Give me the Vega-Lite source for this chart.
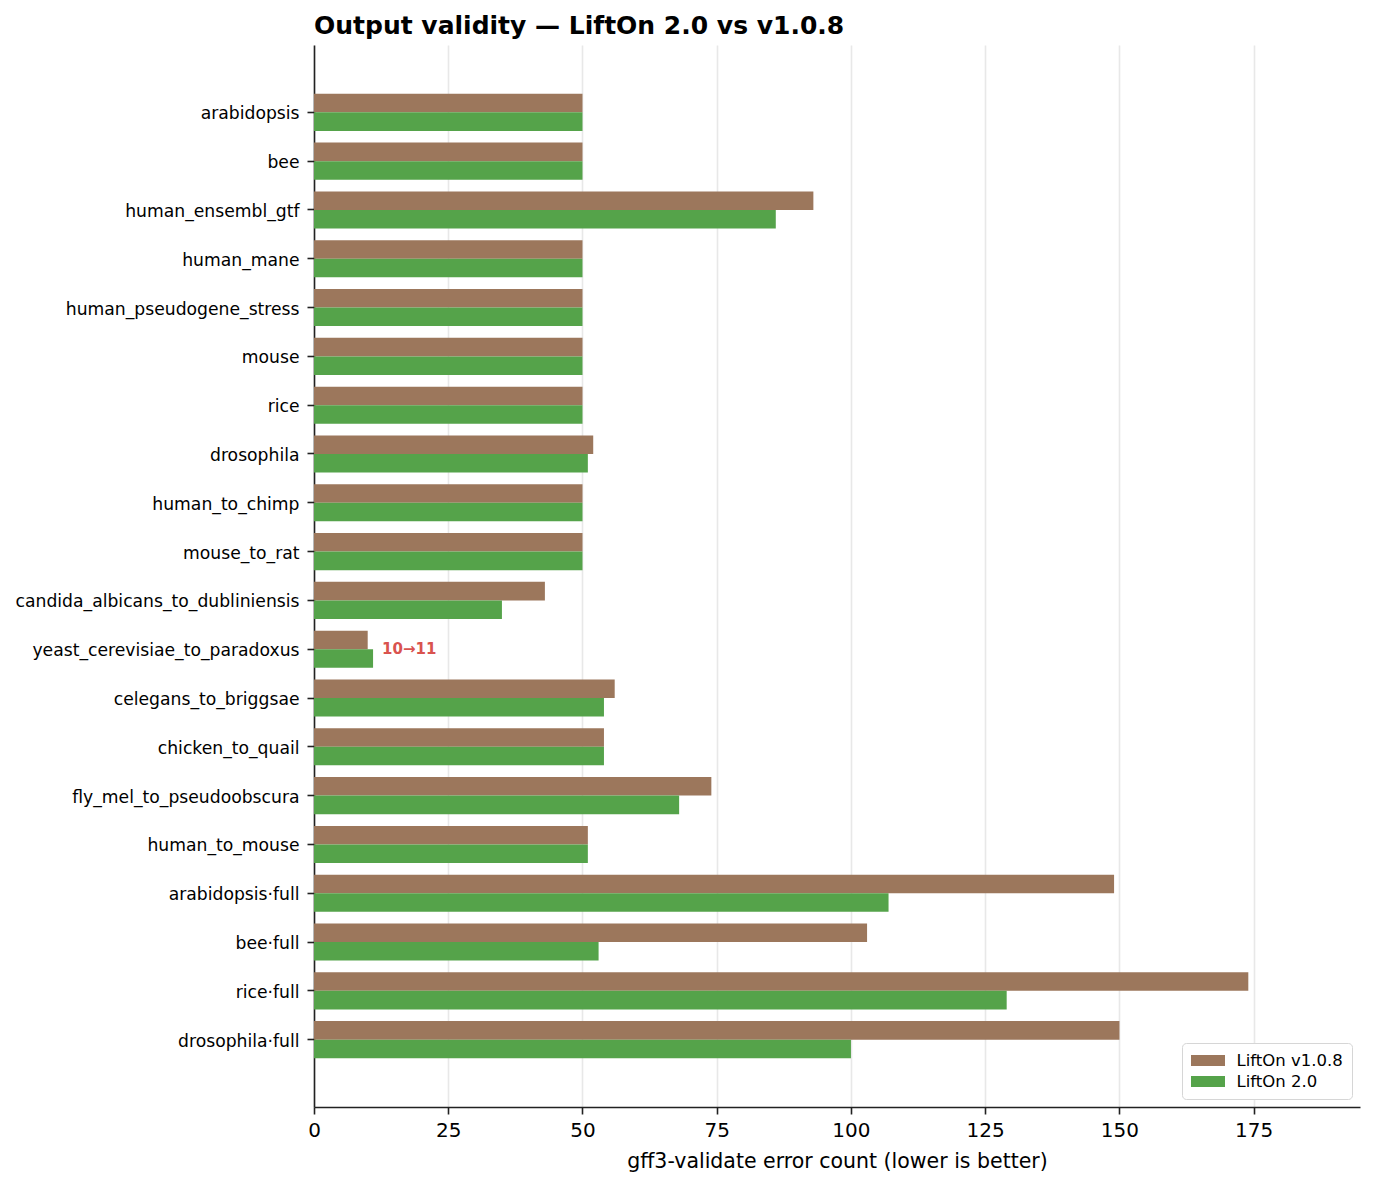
{
  "$schema": "https://vega.github.io/schema/vega-lite/v6.json",
  "autosize": {"type": "none"},
  "padding": {"left": 314, "top": 45, "right": 14, "bottom": 81},
  "width": 1046,
  "height": 1062,
  "background": "white",
  "title": {"text": "Output validity — LiftOn 2.0 vs v1.0.8", "anchor": "start", "frame": "group", "font": "DejaVu Sans", "fontSize": 25, "fontWeight": "bold", "color": "black", "offset": 6},
  "config": {
    "view": {"stroke": null},
    "font": "DejaVu Sans",
    "axis": {"labelFont": "DejaVu Sans", "titleFont": "DejaVu Sans", "labelColor": "black", "titleColor": "black", "domainColor": "#222222", "tickColor": "#222222", "titleFontWeight": "normal"}
  },
  "datasets": {
    "bars": [
      {"case": "arabidopsis", "version": "LiftOn v1.0.8", "errors": 50},
      {"case": "arabidopsis", "version": "LiftOn 2.0", "errors": 50},
      {"case": "bee", "version": "LiftOn v1.0.8", "errors": 50},
      {"case": "bee", "version": "LiftOn 2.0", "errors": 50},
      {"case": "human_ensembl_gtf", "version": "LiftOn v1.0.8", "errors": 93},
      {"case": "human_ensembl_gtf", "version": "LiftOn 2.0", "errors": 86},
      {"case": "human_mane", "version": "LiftOn v1.0.8", "errors": 50},
      {"case": "human_mane", "version": "LiftOn 2.0", "errors": 50},
      {"case": "human_pseudogene_stress", "version": "LiftOn v1.0.8", "errors": 50},
      {"case": "human_pseudogene_stress", "version": "LiftOn 2.0", "errors": 50},
      {"case": "mouse", "version": "LiftOn v1.0.8", "errors": 50},
      {"case": "mouse", "version": "LiftOn 2.0", "errors": 50},
      {"case": "rice", "version": "LiftOn v1.0.8", "errors": 50},
      {"case": "rice", "version": "LiftOn 2.0", "errors": 50},
      {"case": "drosophila", "version": "LiftOn v1.0.8", "errors": 52},
      {"case": "drosophila", "version": "LiftOn 2.0", "errors": 51},
      {"case": "human_to_chimp", "version": "LiftOn v1.0.8", "errors": 50},
      {"case": "human_to_chimp", "version": "LiftOn 2.0", "errors": 50},
      {"case": "mouse_to_rat", "version": "LiftOn v1.0.8", "errors": 50},
      {"case": "mouse_to_rat", "version": "LiftOn 2.0", "errors": 50},
      {"case": "candida_albicans_to_dubliniensis", "version": "LiftOn v1.0.8", "errors": 43},
      {"case": "candida_albicans_to_dubliniensis", "version": "LiftOn 2.0", "errors": 35},
      {"case": "yeast_cerevisiae_to_paradoxus", "version": "LiftOn v1.0.8", "errors": 10},
      {"case": "yeast_cerevisiae_to_paradoxus", "version": "LiftOn 2.0", "errors": 11},
      {"case": "celegans_to_briggsae", "version": "LiftOn v1.0.8", "errors": 56},
      {"case": "celegans_to_briggsae", "version": "LiftOn 2.0", "errors": 54},
      {"case": "chicken_to_quail", "version": "LiftOn v1.0.8", "errors": 54},
      {"case": "chicken_to_quail", "version": "LiftOn 2.0", "errors": 54},
      {"case": "fly_mel_to_pseudoobscura", "version": "LiftOn v1.0.8", "errors": 74},
      {"case": "fly_mel_to_pseudoobscura", "version": "LiftOn 2.0", "errors": 68},
      {"case": "human_to_mouse", "version": "LiftOn v1.0.8", "errors": 51},
      {"case": "human_to_mouse", "version": "LiftOn 2.0", "errors": 51},
      {"case": "arabidopsis·full", "version": "LiftOn v1.0.8", "errors": 149},
      {"case": "arabidopsis·full", "version": "LiftOn 2.0", "errors": 107},
      {"case": "bee·full", "version": "LiftOn v1.0.8", "errors": 103},
      {"case": "bee·full", "version": "LiftOn 2.0", "errors": 53},
      {"case": "rice·full", "version": "LiftOn v1.0.8", "errors": 174},
      {"case": "rice·full", "version": "LiftOn 2.0", "errors": 129},
      {"case": "drosophila·full", "version": "LiftOn v1.0.8", "errors": 150},
      {"case": "drosophila·full", "version": "LiftOn 2.0", "errors": 100}
    ],
    "notes": [
      {"case": "yeast_cerevisiae_to_paradoxus", "errors": 11, "label": "10→11"}
    ]
  },
  "layer": [
    {
      "data": {"name": "bars"},
      "mark": {"type": "bar", "cornerRadius": 0},
      "encoding": {
        "y": {"field": "case", "type": "nominal", "sort": null, "scale": {"paddingInner": 0.24, "paddingOuter": 1.0},
              "axis": {"title": null, "labelFontSize": 17.2, "labelLimit": 500, "labelOffset": 2, "tickSize": 7, "labelPadding": 8, "domainWidth": 1.6, "tickWidth": 1.6}},
        "yOffset": {"field": "version", "type": "nominal", "sort": ["LiftOn v1.0.8", "LiftOn 2.0"], "scale": {"paddingInner": 0, "paddingOuter": 0}},
        "x": {"field": "errors", "type": "quantitative", "scale": {"domain": [0, 194.8], "nice": false, "zero": true},
              "axis": {"title": "gff3-validate error count (lower is better)", "values": [0, 25, 50, 75, 100, 125, 150, 175], "labelFlush": false, "labelFontSize": 20, "titleFontSize": 20.5, "tickSize": 7, "labelPadding": 6, "titlePadding": 11, "grid": true, "gridColor": "#e8e8e8", "gridWidth": 1.6, "domainWidth": 1.6, "tickWidth": 1.6}},
        "color": {"field": "version", "type": "nominal", "sort": ["LiftOn v1.0.8", "LiftOn 2.0"],
                  "scale": {"domain": ["LiftOn v1.0.8", "LiftOn 2.0"], "range": ["#9c775c", "#55a34a"]},
                  "legend": {"title": null, "orient": "bottom-right", "offset": 8, "labelFontSize": 16.5, "labelFont": "DejaVu Sans", "labelColor": "black",
                             "symbolType": "M-2,-0.65L2,-0.65L2,0.65L-2,0.65Z", "symbolSize": 289, "symbolOffset": 8.5, "symbolStrokeWidth": 0, "symbolOpacity": 1,
                             "strokeColor": "#d6d6d6", "fillColor": "white", "padding": 9, "cornerRadius": 4, "rowPadding": 4, "labelOffset": 20}}
      }
    },
    {
      "data": {"name": "notes"},
      "mark": {"type": "text", "align": "left", "baseline": "middle", "dx": 9, "fontSize": 15, "fontWeight": "bold", "color": "#d9534f", "font": "DejaVu Sans"},
      "encoding": {
        "y": {"field": "case", "type": "nominal", "sort": null},
        "x": {"field": "errors", "type": "quantitative"},
        "text": {"field": "label"}
      }
    }
  ]
}
